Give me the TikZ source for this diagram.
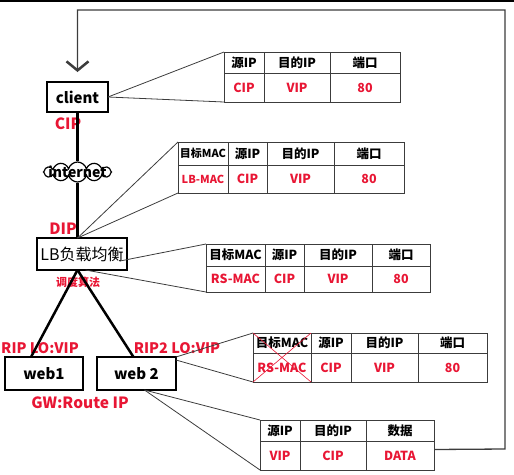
\documentclass[tikz,border=0pt]{standalone}
\usepackage{fontspec}
\setmainfont{Noto Sans CJK SC}
\usetikzlibrary{arrows.meta,positioning,shapes.symbols}
\definecolor{linegray}{RGB}{60,60,60}
\definecolor{hotred}{RGB}{232,22,52}

\begin{document}
\begin{tikzpicture}[x=1pt,y=-1pt,>=Latex, every node/.style={inner sep=0pt}]
\tikzstyle{host}=[draw, line width=2.5pt, outer sep=0pt, anchor=north west, font=\fontsize{15}{16}\selectfont\bfseries]
\tikzstyle{cell}=[draw=linegray, line width=1pt, outer sep=0pt, anchor=north west, font=\fontsize{12.5}{13}\selectfont\bfseries]
\tikzstyle{val}=[cell, text=hotred]
\tikzstyle{tag}=[text=hotred, font=\fontsize{15.5}{16}\selectfont\bfseries]
\tikzstyle{wire}=[draw=linegray, line width=0.8pt]
\useasboundingbox (0,0) rectangle (514,474);
\draw[line width=2pt] (0,1) -- (514,1);
% hosts
\node[host, minimum width=61pt, minimum height=30pt] (client) at (47,82) {client};
\node[tag] (cip) at (68,124) {CIP};
\node[draw, cloud, cloud puffs=12, aspect=3.2, fill=white, line width=1.2pt, minimum width=68pt, minimum height=20pt,
  label={[font=\fontsize{14}{15}\selectfont\bfseries]center:internet}] (inet) at (77.5,172) {};
\node[tag] (dip) at (63,229) {DIP};
\node[host, font=\fontsize{16}{17}\selectfont, minimum width=90pt, minimum height=32pt] (lb) at (37,238) {LB负载均衡};
\node[tag, font=\fontsize{11}{12}\selectfont\bfseries] (algo) at (78,282) {调度算法};
\node[tag, font=\fontsize{14.5}{15}\selectfont\bfseries] (rip1) at (40,348) {RIP LO:VIP};
\node[tag, font=\fontsize{14.5}{15}\selectfont\bfseries] (rip2) at (177,348) {RIP2 LO:VIP};
\node[host, minimum width=78pt, minimum height=33pt] (web1) at (5,357) {web1};
\node[host, minimum width=79pt, minimum height=33pt] (web2) at (97,357) {web 2};
\node[tag] (gw) at (80,403) {GW:Route IP};
\draw[line width=2.5pt] (client.south) -- (inet);
\draw[line width=2.5pt] (inet) -- (inet |- lb.north);
\draw[line width=2.5pt] (inet |- lb.south) -- ([xshift=-13pt]web1.north);
\draw[line width=2.5pt] (inet |- lb.south) -- ([xshift=-3pt]web2.north);
% client -> LB
\node[cell, minimum width=40pt, minimum height=21pt] (t1h1) at (224,52) {源IP};
\node[cell, minimum width=66pt, minimum height=21pt, right=0pt of t1h1] (t1h2) {目的IP};
\node[cell, minimum width=70pt, minimum height=21pt, right=0pt of t1h2] (t1h3) {端口};
\node[val, minimum width=40pt, minimum height=29pt, below=0pt of t1h1] (t1d1) {CIP};
\node[val, minimum width=66pt, minimum height=29pt, below=0pt of t1h2] (t1d2) {VIP};
\node[val, minimum width=70pt, minimum height=29pt, below=0pt of t1h3] (t1d3) {80};
\draw[wire] (client.east) -- (t1h1.north west);
\draw[wire] (client.east) -- (t1d1.south west);
% internet -> LB
\node[cell, minimum width=50pt, minimum height=23pt, font=\fontsize{11}{12}\selectfont\bfseries] (t2h1) at (178,142) {目标MAC};
\node[cell, minimum width=39pt, minimum height=23pt, right=0pt of t2h1] (t2h2) {源IP};
\node[cell, minimum width=67pt, minimum height=23pt, right=0pt of t2h2] (t2h3) {目的IP};
\node[cell, minimum width=70pt, minimum height=23pt, right=0pt of t2h3] (t2h4) {端口};
\node[val, minimum width=50pt, minimum height=28pt, font=\fontsize{11}{12}\selectfont\bfseries, below=0pt of t2h1] (t2d1) {LB-MAC};
\node[val, minimum width=39pt, minimum height=28pt, below=0pt of t2h2] (t2d2) {CIP};
\node[val, minimum width=67pt, minimum height=28pt, below=0pt of t2h3] (t2d3) {VIP};
\node[val, minimum width=70pt, minimum height=28pt, below=0pt of t2h4] (t2d4) {80};
\draw[wire] (inet |- lb.north) -- (t2h1.north west);
\draw[wire] (inet |- lb.north) -- (t2d1.south west);
% LB -> RS
\node[cell, minimum width=59pt, minimum height=22pt] (t3h1) at (206,244) {目标MAC};
\node[cell, minimum width=39pt, minimum height=22pt, right=0pt of t3h1] (t3h2) {源IP};
\node[cell, minimum width=68pt, minimum height=22pt, right=0pt of t3h2] (t3h3) {目的IP};
\node[cell, minimum width=58pt, minimum height=22pt, right=0pt of t3h3] (t3h4) {端口};
\node[val, minimum width=59pt, minimum height=26pt, below=0pt of t3h1] (t3d1) {RS-MAC};
\node[val, minimum width=39pt, minimum height=26pt, below=0pt of t3h2] (t3d2) {CIP};
\node[val, minimum width=68pt, minimum height=26pt, below=0pt of t3h3] (t3d3) {VIP};
\node[val, minimum width=58pt, minimum height=26pt, below=0pt of t3h4] (t3d4) {80};
\draw[wire] ([shift={(-7,7)}]lb.east) -- (t3h1.north west);
\draw[wire] ([xshift=8pt]inet |- lb.south) -- (t3d1.south west);
% arrives at web2
\node[cell, minimum width=58pt, minimum height=20pt] (t4h1) at (253,333) {目标MAC};
\node[cell, minimum width=40pt, minimum height=20pt, right=0pt of t4h1] (t4h2) {源IP};
\node[cell, minimum width=67pt, minimum height=20pt, right=0pt of t4h2] (t4h3) {目的IP};
\node[cell, minimum width=69pt, minimum height=20pt, right=0pt of t4h3] (t4h4) {端口};
\node[val, minimum width=58pt, minimum height=29pt, below=0pt of t4h1] (t4d1) {RS-MAC};
\node[val, minimum width=40pt, minimum height=29pt, below=0pt of t4h2] (t4d2) {CIP};
\node[val, minimum width=67pt, minimum height=29pt, below=0pt of t4h3] (t4d3) {VIP};
\node[val, minimum width=69pt, minimum height=29pt, below=0pt of t4h4] (t4d4) {80};
\draw[hotred, line width=0.6pt] (t4h1.north west) -- (t4d1.south east);
\draw[hotred, line width=0.6pt] (t4d1.south west) -- (t4h1.north east);
\draw[wire] (web2.north east) -- (t4h1.north west);
\draw[wire] ([yshift=-3pt]web2.north east) -- (t4d1.south west);
% web2 reply
\node[cell, minimum width=40pt, minimum height=21pt] (t5h1) at (260,420) {源IP};
\node[cell, minimum width=66pt, minimum height=21pt, right=0pt of t5h1] (t5h2) {目的IP};
\node[cell, minimum width=68pt, minimum height=21pt, right=0pt of t5h2] (t5h3) {数据};
\node[val, minimum width=40pt, minimum height=29pt, below=0pt of t5h1] (t5d1) {VIP};
\node[val, minimum width=66pt, minimum height=29pt, below=0pt of t5h2] (t5d2) {CIP};
\node[val, minimum width=68pt, minimum height=29pt, below=0pt of t5h3] (t5d3) {DATA};
\draw[wire] ([xshift=8pt]web2.south) -- (t5h1.north west);
\draw[wire] ([xshift=8pt]web2.south) -- (t5d1.south west);
% back to client
\coordinate (turnA) at (505,449);
\coordinate (turnB) at (505,10);
\draw[wire, line width=1.3pt, -{Straight Barb[length=9pt, width=22pt, line width=2.5pt]}]
  ([yshift=6pt]t5d3.east) -- (turnA) -- (turnB) -- (client.north |- turnB) -- ([yshift=10pt]client.north);
\end{tikzpicture}
\end{document}
